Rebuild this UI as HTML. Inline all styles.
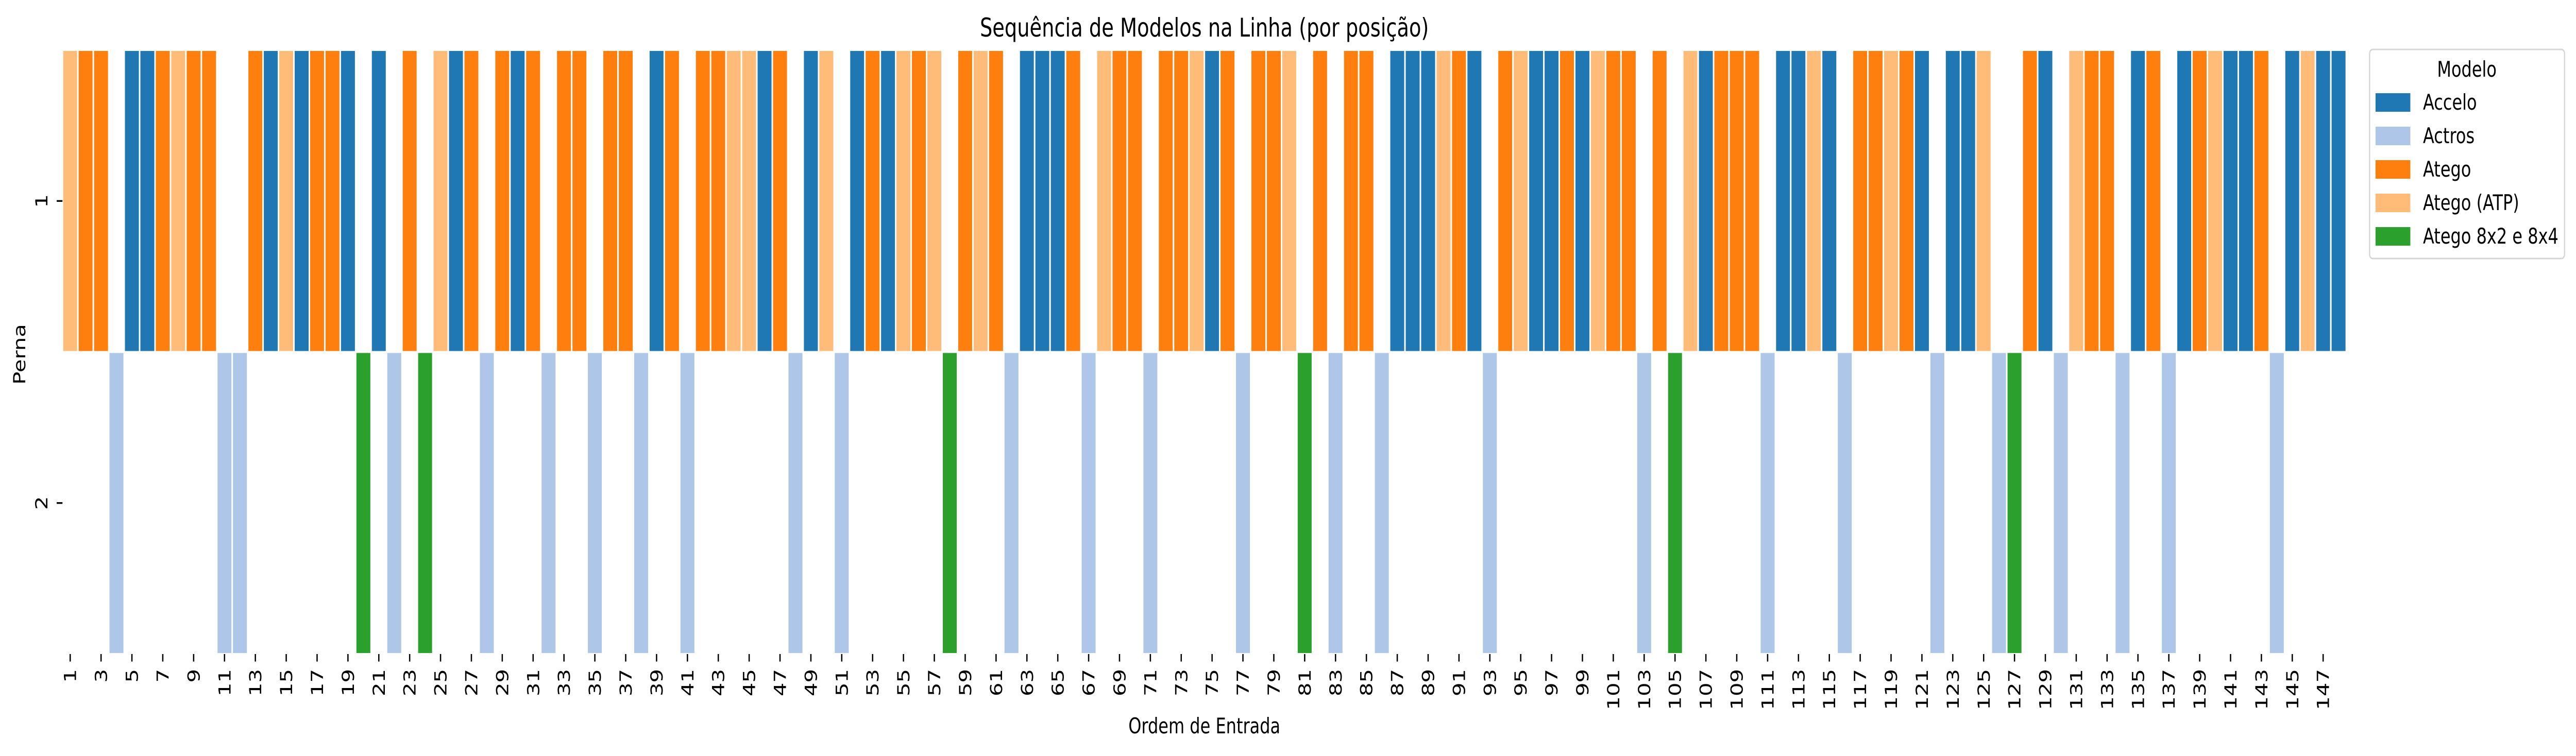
<!DOCTYPE html>
<html><head><meta charset="utf-8"><title>Sequência de Modelos na Linha</title>
<style>html,body{margin:0;padding:0;background:#fff;overflow:hidden;width:100vw;height:100vh;}svg{display:block;width:100vw;height:100vh;}</style>
</head><body>
<svg id="chart" xmlns="http://www.w3.org/2000/svg" viewBox="0 0 6515 1468" preserveAspectRatio="none" font-family="DejaVu Sans, Liberation Sans, sans-serif">
<rect x="0" y="0" width="6515" height="1468" fill="#fff"/>
<text x="3046" y="71" font-size="50" text-anchor="middle">Sequência de Modelos na Linha (por posição)</text>
<g id="cells"></g>
<g id="xticks"></g>
<g id="yticks"></g>
<text x="3046" y="1424" font-size="41.7" text-anchor="middle">Ordem de Entrada</text>
<text transform="translate(64,688) rotate(-90)" font-size="41.7" text-anchor="middle">Perna</text>
<g id="legend"></g>
</svg>
<script>
// Model names and colours
const modelNames = ["Accelo", "Actros", "Atego", "Atego (ATP)", "Atego 8x2 e 8x4"];
const modelColors = ["#1f77b4", "#aec7e8", "#ff7f0e", "#ffbb78", "#2ca02c"];
// Model code per entry position (A=Accelo, R=Actros, G=Atego, P=Atego ATP, V=Atego 8x2 e 8x4)
const sequence = [
"P","G","G","R","A","A","G","P","G","G",
"R","R","G","A","P","A","G","G","A","V",
"A","R","G","V","P","A","G","R","G","A",
"G","R","G","G","R","G","G","R","A","G",
"R","G","G","P","P","A","G","R","A","P",
"R","A","G","A","P","G","P","V","G","P",
"G","R","A","A","A","G","R","P","G","G",
"R","G","G","P","A","G","R","G","G","P",
"V","G","R","G","G","R","A","A","A","P",
"G","A","R","G","P","A","A","G","A","P",
"G","G","R","G","V","P","A","G","G","G",
"R","A","A","P","A","R","G","G","P","G",
"A","R","A","A","P","R","V","G","A","R",
"P","G","G","R","A","G","R","A","G","P",
"A","A","G","R","A","P","A","A"];
// Leg (row) per entry position
const legs = [
1,1,1,2,1,1,1,1,1,1,
2,2,1,1,1,1,1,1,1,2,
1,2,1,2,1,1,1,2,1,1,
1,2,1,1,2,1,1,2,1,1,
2,1,1,1,1,1,1,2,1,1,
2,1,1,1,1,1,1,2,1,1,
1,2,1,1,1,1,2,1,1,1,
2,1,1,1,1,1,2,1,1,1,
2,1,2,1,1,2,1,1,1,1,
1,1,2,1,1,1,1,1,1,1,
1,1,2,1,2,1,1,1,1,1,
2,1,1,1,1,2,1,1,1,1,
1,2,1,1,1,2,2,1,1,2,
1,1,1,2,1,1,2,1,1,1,
1,1,1,2,1,1,1,1];
const codeMap = ["A","R","G","P","V"];
const legLabels = ["1","2"];

const NS = "http://www.w3.org/2000/svg";
const plotL = 158, plotR = 5934, plotT = 97, plotB = 1270;
const nCols = sequence.length;
const cw = (plotR - plotL) / nCols;
const rh = (plotB - plotT) / legLabels.length;
function xScale(i) { return plotL + i * cw; }
function yScale(leg) { return plotT + (leg - 1) * rh; }

const cells = document.getElementById("cells");
for (let i = 0; i < nCols; i++) {
  const m = codeMap.indexOf(sequence[i]);
  const r = document.createElementNS(NS, "rect");
  r.setAttribute("x", xScale(i));
  r.setAttribute("y", yScale(legs[i]));
  r.setAttribute("width", cw);
  r.setAttribute("height", rh);
  r.setAttribute("fill", modelColors[m]);
  r.setAttribute("stroke", "#fff");
  r.setAttribute("stroke-width", "3.8");
  
  
  cells.appendChild(r);
}

const xt = document.getElementById("xticks");
for (let i = 0; i < nCols; i += 2) {
  const cx = xScale(i) + cw / 2;
  const t = document.createElementNS(NS, "line");
  t.setAttribute("x1", cx); t.setAttribute("x2", cx);
  t.setAttribute("y1", plotB); t.setAttribute("y2", plotB + 14.6);
  t.setAttribute("stroke", "#000"); t.setAttribute("stroke-width", "3.3");
  
  
  xt.appendChild(t);
  const tx = document.createElementNS(NS, "text");
  tx.setAttribute("transform", "translate(" + (cx + 15) + "," + (plotB + 29) + ") rotate(-90)");
  tx.setAttribute("font-size", "41.7");
  tx.setAttribute("text-anchor", "end");
  tx.textContent = String(i + 1);
  
  
  xt.appendChild(tx);
}

const yt = document.getElementById("yticks");
for (let k = 0; k < legLabels.length; k++) {
  const cy = yScale(k + 1) + rh / 2;
  const t = document.createElementNS(NS, "line");
  t.setAttribute("x1", plotL - 14.6); t.setAttribute("x2", plotL);
  t.setAttribute("y1", cy); t.setAttribute("y2", cy);
  t.setAttribute("stroke", "#000"); t.setAttribute("stroke-width", "3.3");
  
  
  yt.appendChild(t);
  const tx = document.createElementNS(NS, "text");
  tx.setAttribute("transform", "translate(120," + cy + ") rotate(-90)");
  tx.setAttribute("font-size", "41.7");
  tx.setAttribute("text-anchor", "middle");
  tx.textContent = legLabels[k];
  
  
  yt.appendChild(tx);
}

const lg = document.getElementById("legend");
const box = document.createElementNS(NS, "rect");
box.setAttribute("x", 5993); box.setAttribute("y", 96);
box.setAttribute("width", 493); box.setAttribute("height", 406);
box.setAttribute("rx", 8); box.setAttribute("fill", "#fff");
box.setAttribute("stroke", "#d6d6d6"); box.setAttribute("stroke-width", "3");


lg.appendChild(box);
const lt = document.createElementNS(NS, "text");
lt.setAttribute("x", 6239); lt.setAttribute("y", 149);
lt.setAttribute("font-size", "41.7"); lt.setAttribute("text-anchor", "middle");
lt.textContent = "Modelo";


lg.appendChild(lt);
for (let k = 0; k < modelNames.length; k++) {
  const y = 181 + k * 65;
  const p = document.createElementNS(NS, "rect");
  p.setAttribute("x", 6008); p.setAttribute("y", y);
  p.setAttribute("width", 88); p.setAttribute("height", 36);
  p.setAttribute("fill", modelColors[k]);
  
  
  lg.appendChild(p);
  const tx = document.createElementNS(NS, "text");
  tx.setAttribute("x", 6128); tx.setAttribute("y", y + 32);
  tx.setAttribute("font-size", "41.7");
  tx.textContent = modelNames[k];
  
  
  lg.appendChild(tx);
}
</script>
</body></html>
